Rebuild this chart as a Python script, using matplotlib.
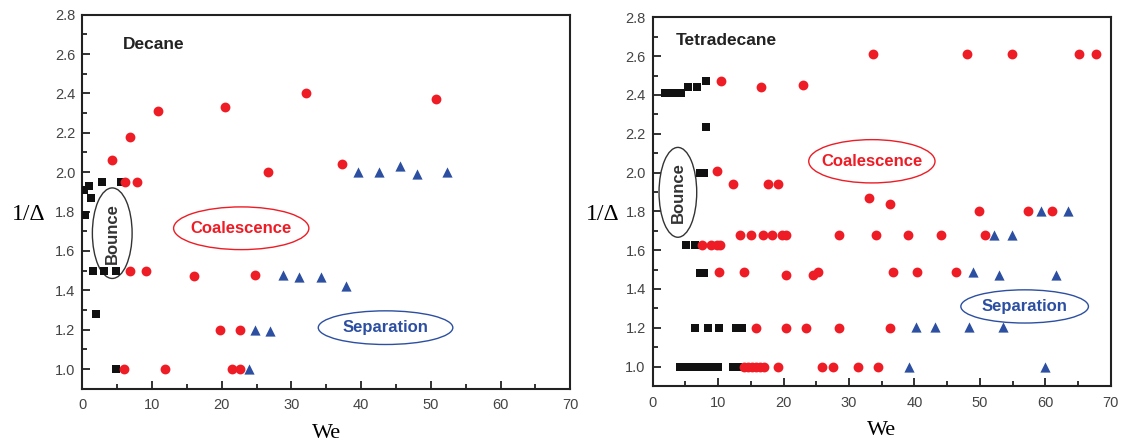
import matplotlib.pyplot as plt
from matplotlib.patches import Ellipse
from matplotlib.ticker import MultipleLocator

# Decane
dec_bounce_we = [0.3, 0.9, 0.4, 1.3, 2.9, 5.5, 1.5, 3.1, 4.8, 2.0, 4.9]
dec_bounce_d = [1.91, 1.93, 1.78, 1.87, 1.95, 1.95, 1.50, 1.50, 1.50, 1.28, 1.00]
dec_coal_we = [4.2, 6.9, 10.8, 20.5, 26.7, 6.2, 7.8, 6.8, 9.1, 16.0, 24.8,
               19.7, 22.6, 6.0, 11.8, 21.5, 22.6, 32.1, 50.8, 37.2]
dec_coal_d = [2.06, 2.18, 2.31, 2.33, 2.00, 1.95, 1.95, 1.50, 1.50, 1.47, 1.48,
              1.20, 1.20, 1.00, 1.00, 1.00, 1.00, 2.40, 2.37, 2.04]
dec_sep_we = [23.9, 24.8, 26.9, 28.8, 31.1, 34.3, 37.8, 39.5, 42.5, 45.6, 48.0, 52.3]
dec_sep_d = [1.00, 1.20, 1.195, 1.48, 1.465, 1.465, 1.42, 2.00, 2.00, 2.03, 1.99, 2.00]

# Tetradecane
tet_bounce_we = [1.9, 3.1, 4.4, 5.4, 6.8, 8.2, 8.2, 7.2, 7.8, 5.1, 6.5, 7.2, 7.9,
                 6.4, 8.4, 10.2, 12.8, 13.6,
                 4.2, 5.0, 6.0, 7.0, 8.0, 8.8, 10.0, 12.3, 13.0]
tet_bounce_d = [2.41, 2.41, 2.41, 2.44, 2.44, 2.47, 2.235, 2.00, 2.00, 1.625, 1.625, 1.48, 1.48,
                1.20, 1.20, 1.20, 1.20, 1.20,
                1.00, 1.00, 1.00, 1.00, 1.00, 1.00, 1.00, 1.00, 1.00]
tet_coal_we = [10.4, 16.5, 22.9, 33.6, 48.0, 54.9, 65.2, 67.7,
               9.8, 12.2, 17.6, 19.2, 33.0, 36.2,
               13.3, 15.0, 16.9, 18.2, 19.7, 20.3, 28.5, 34.2, 39.0, 44.1, 50.8,
               7.5, 8.9, 9.8, 10.3,
               49.8, 57.3, 61.1,
               10.2, 13.9, 20.3, 24.5, 25.3, 36.7, 40.4, 46.3,
               15.8, 20.3, 23.5, 28.4, 36.3,
               14.0, 14.6, 15.2, 15.8, 16.4, 17.0, 19.2, 25.9, 27.5, 31.4, 34.4]
tet_coal_d = [2.47, 2.44, 2.45, 2.61, 2.61, 2.61, 2.61, 2.61,
              2.01, 1.94, 1.94, 1.94, 1.87, 1.84,
              1.68, 1.68, 1.68, 1.68, 1.68, 1.68, 1.68, 1.68, 1.68, 1.68, 1.68,
              1.625, 1.625, 1.625, 1.625,
              1.80, 1.80, 1.80,
              1.485, 1.485, 1.47, 1.47, 1.485, 1.485, 1.485, 1.485,
              1.20, 1.20, 1.20, 1.20, 1.20,
              1.00, 1.00, 1.00, 1.00, 1.00, 1.00, 1.00, 1.00, 1.00, 1.00, 1.00]
tet_sep_we = [39.1, 59.9, 40.3, 43.1, 48.4, 53.6, 49.0, 52.9, 61.7, 52.2, 54.9, 59.3, 63.5]
tet_sep_d = [1.00, 1.00, 1.205, 1.205, 1.205, 1.205, 1.487, 1.47, 1.47, 1.68, 1.68, 1.80, 1.80]

RED = '#ee1c25'
BLUE = '#2c4fa2'
BLACK = '#111111'

fig = plt.figure(figsize=(11.3, 4.48), dpi=100)
ax1 = fig.add_axes([0.0728, 0.1324, 0.4319, 0.8348])
ax2 = fig.add_axes([0.5776, 0.1384, 0.4053, 0.8230])


def draw(ax, bw, bd, cw, cd, sw, sd, title, title_xy, ells):
    ax.scatter(bw, bd, marker='s', s=34, c=BLACK, linewidths=0, zorder=3)
    ax.scatter(cw, cd, marker='o', s=50, c=RED, linewidths=0, zorder=4)
    ax.scatter(sw, sd, marker='^', s=54, c=BLUE, linewidths=0, zorder=5)
    ax.set_xlim(0, 70)
    ax.set_ylim(0.9, 2.8)
    ax.xaxis.set_major_locator(MultipleLocator(10))
    ax.xaxis.set_minor_locator(MultipleLocator(5))
    ax.yaxis.set_major_locator(MultipleLocator(0.2))
    ax.yaxis.set_minor_locator(MultipleLocator(0.1))
    ax.tick_params(which='both', direction='in', colors='#222222',
                   labelcolor='#444444', labelsize=10.5, width=1.3)
    ax.tick_params(which='major', length=6)
    ax.tick_params(which='minor', length=3.5)
    ax.tick_params(axis='x', pad=7)
    ax.tick_params(axis='y', pad=5)
    for lbl in ax.get_xticklabels() + ax.get_yticklabels():
        lbl.set_family('Liberation Sans')
    for sp in ax.spines.values():
        sp.set_linewidth(1.5)
        sp.set_color('#222222')
    ax.set_xlabel('We', family='Liberation Serif', fontsize=16, labelpad=8)
    ax.set_ylabel('1/Δ', family='Liberation Serif', fontsize=17, rotation=0,
                  va='center', ha='center')
    ax.yaxis.set_label_coords(-0.11, 0.465)
    ax.text(title_xy[0], title_xy[1], title, fontsize=12.5, fontweight='bold',
            family='Liberation Sans', color='#222222', va='center', ha='left')
    for (cx, cy, w, h, txt, col, rot) in ells:
        ax.add_patch(Ellipse((cx, cy), w, h, fill=False, edgecolor=col, linewidth=1.0, zorder=2))
        ax.text(cx, cy, txt, color=col, fontsize=12, fontweight='bold', family='Liberation Sans',
                ha='center', va='center', rotation=rot, zorder=6)


draw(ax1, dec_bounce_we, dec_bounce_d, dec_coal_we, dec_coal_d, dec_sep_we, dec_sep_d,
     'Decane', (5.8, 2.65),
     [(4.3, 1.69, 5.7, 0.46, 'Bounce', '#333333', 90),
      (22.8, 1.715, 19.4, 0.217, 'Coalescence', RED, 0),
      (43.5, 1.21, 19.3, 0.171, 'Separation', BLUE, 0)])
draw(ax2, tet_bounce_we, tet_bounce_d, tet_coal_we, tet_coal_d, tet_sep_we, tet_sep_d,
     'Tetradecane', (3.6, 2.68),
     [(3.85, 1.898, 5.76, 0.463, 'Bounce', '#333333', 90),
      (33.5, 2.058, 19.3, 0.223, 'Coalescence', RED, 0),
      (56.85, 1.31, 19.5, 0.171, 'Separation', BLUE, 0)])

fig.savefig('out.png', dpi=100)
